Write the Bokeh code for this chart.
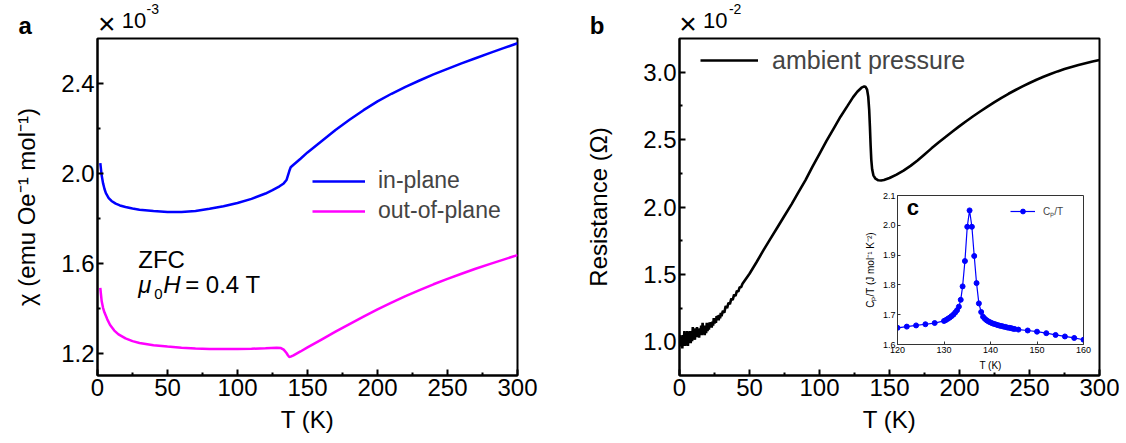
from bokeh.plotting import figure
from bokeh.models import Range1d, FixedTicker, PrintfTickFormatter, Label
from bokeh.layouts import row
from bokeh.embed import file_html
from bokeh.resources import INLINE

FONT = "Liberation Sans"

# ---------------- panel a : susceptibility (x1e-3 emu Oe^-1 mol^-1) ----------------
T_in = [2, 3, 4, 5, 6, 8, 10, 13, 16, 20, 25, 30, 40, 50, 60, 70, 80, 90, 100, 110,
        120, 125, 130, 133, 135, 136, 137, 138, 140, 145, 150, 160, 170, 180, 190, 200,
        210, 220, 230, 240, 250, 260, 270, 280, 290, 300]
chi_in = [2.045, 1.99, 1.955, 1.93, 1.912, 1.89, 1.877, 1.865, 1.857, 1.85, 1.843, 1.838,
          1.832, 1.828, 1.828, 1.832, 1.842, 1.853, 1.868, 1.886, 1.91, 1.925, 1.942, 1.955,
          1.97, 1.99, 2.01, 2.027, 2.038, 2.065, 2.093, 2.143, 2.193, 2.238, 2.281, 2.32,
          2.354, 2.385, 2.413, 2.44, 2.465, 2.489, 2.512, 2.535, 2.557, 2.579]
T_out = [2, 3, 4, 5, 7, 9, 12, 15, 20, 25, 30, 40, 50, 60, 70, 80, 90, 100, 110, 120,
         128, 131, 133, 135, 136, 137, 138, 140, 145, 150, 160, 170, 180, 190, 200, 210,
         220, 230, 240, 250, 260, 270, 280, 290, 300]
chi_out = [1.49, 1.43, 1.40, 1.38, 1.35, 1.325, 1.30, 1.283, 1.265, 1.253, 1.245, 1.235,
           1.229, 1.224, 1.22, 1.218, 1.218, 1.218, 1.219, 1.221, 1.223, 1.222, 1.215, 1.2,
           1.19, 1.182, 1.184, 1.19, 1.207, 1.225, 1.26, 1.295, 1.329, 1.362, 1.394, 1.424,
           1.453, 1.48, 1.506, 1.53, 1.553, 1.575, 1.596, 1.616, 1.636]
a_xticks = [0, 50, 100, 150, 200, 250, 300]
a_xminor = [25, 75, 125, 175, 225, 275]
a_yticks = [1.2, 1.6, 2.0, 2.4]
a_yminor = [1.4, 1.8, 2.2]

# ---------------- panel b : resistance (x1e-2 Ohm) ----------------
T_b = [0.5, 1.0, 1.5, 2.0, 2.5, 3.0, 3.5, 4.0, 4.5, 5.0, 5.5, 6.0, 6.5, 7.0, 7.5, 8.0, 8.5, 9.0, 9.5, 10.0,
       10.5, 11.0, 11.5, 12.0, 12.5, 13.0, 13.5, 14.0, 14.5, 15.0, 15.5, 16.0, 16.5, 17.0, 17.5, 18.0, 18.5, 19.0, 19.5, 20.0,
       20.5, 21.0, 21.5, 22.0, 22.5, 23.0, 23.5, 24.0, 24.5, 25.0, 25.5, 26.0, 26.5, 27.0, 27.5, 28.0, 28.5, 29.0, 29.5, 30.0,
       31, 32, 33, 34, 35, 36, 37, 38, 39, 40, 41, 42, 43, 44, 45,
       47, 50, 55, 60, 65, 70, 75, 80, 85, 90, 95, 100, 105, 110, 115, 120, 124, 127, 130, 132,
       133, 134, 134.8, 135.5, 136, 136.5, 137, 137.6, 138.5, 140, 142, 144, 146, 150, 155, 160,
       165, 170, 175, 180, 185, 190, 195, 200, 205, 210, 215, 220, 225, 230, 235, 240, 245, 250,
       255, 260, 265, 270, 275, 280, 285, 290, 295, 300]
R_b = [1.05, 0.965, 1.03, 0.95, 1.05, 0.995, 1.08, 0.97, 1.03, 0.995, 1.08, 0.97, 1.06, 1.015, 1.08, 0.99, 1.06, 1.005, 1.11, 1.02,
       1.08, 1.015, 1.10, 1.04, 1.11, 1.035, 1.09, 1.03, 1.10, 1.065, 1.12, 1.05, 1.14, 1.065, 1.12, 1.05, 1.11, 1.065, 1.14, 1.08,
       1.125, 1.09, 1.145, 1.11, 1.145, 1.105, 1.15, 1.12, 1.175, 1.135, 1.175, 1.14, 1.19, 1.16, 1.195, 1.16, 1.20, 1.175, 1.215, 1.19,
       1.23, 1.215, 1.265, 1.25, 1.29, 1.28, 1.32, 1.31, 1.35, 1.34, 1.378, 1.372, 1.405, 1.405, 1.43,
       1.46, 1.505, 1.59, 1.68, 1.765, 1.85, 1.935, 2.02, 2.11, 2.2, 2.3, 2.395, 2.49, 2.58, 2.67, 2.75, 2.815, 2.855, 2.885, 2.895,
       2.89, 2.87, 2.82, 2.72, 2.6, 2.46, 2.35, 2.28, 2.235, 2.21, 2.198, 2.197, 2.2, 2.215, 2.24, 2.27,
       2.305, 2.345, 2.39, 2.435, 2.478, 2.519, 2.56, 2.6, 2.638, 2.675, 2.71, 2.745, 2.778, 2.81, 2.84, 2.868, 2.895, 2.92,
       2.944, 2.966, 2.987, 3.006, 3.023, 3.039, 3.054, 3.067, 3.08, 3.091]
b_xticks = [0, 50, 100, 150, 200, 250, 300]
b_xminor = [25, 75, 125, 175, 225, 275]
b_yticks = [1.0, 1.5, 2.0, 2.5, 3.0]
b_yminor = [1.25, 1.75, 2.25, 2.75]

# ---------------- inset c : specific heat ----------------
T_c = [120, 122, 124, 126, 128, 130, 130.4, 130.8, 131.2, 131.6, 132.0, 132.4, 132.8, 133.2, 133.6,
       134.0, 134.5, 135.0, 135.5, 136.0, 136.5, 137.0, 137.5, 138.0, 138.4, 138.8, 139.2, 139.6,
       140.0, 140.4, 140.8, 141.2, 141.6, 142.0, 142.4, 142.8, 143.2, 143.6, 144.0, 144.4, 144.8,
       145.2, 146, 148, 150, 152, 154, 156, 158, 160]
Cp_c = [1.656, 1.66, 1.664, 1.668, 1.672, 1.679, 1.682, 1.686, 1.69, 1.695, 1.70, 1.707, 1.715, 1.727, 1.75,
        1.795, 1.88, 1.995, 2.05, 1.995, 1.897, 1.806, 1.738, 1.709, 1.693, 1.686, 1.681, 1.677,
        1.674, 1.671, 1.669, 1.667, 1.665, 1.663, 1.662, 1.66, 1.659, 1.657, 1.656, 1.655, 1.653,
        1.652, 1.65, 1.647, 1.643, 1.638, 1.632, 1.627, 1.622, 1.616]
c_xticks = [120, 130, 140, 150, 160]
c_xminor = [125, 135, 145, 155]
c_yticks = [1.6, 1.7, 1.8, 1.9, 2.0, 2.1]

TOP, BOTTOM = 38, 62   # shared top/bottom borders (plots in one row are aligned)


def style(p, xt, xm, yt, ym, xfmt, yfmt, tick_fs, lab_fs, maj_in, min_in, lw,
          xlabel, ylabel, tick_st, xlab_st, ylab_st, line_col="black"):
    p.xgrid.visible = False
    p.ygrid.visible = False
    p.outline_line_color = line_col
    p.outline_line_width = lw
    p.outline_line_alpha = 1
    p.xaxis.ticker = FixedTicker(ticks=xt, minor_ticks=xm)
    p.yaxis.ticker = FixedTicker(ticks=yt, minor_ticks=ym)
    p.xaxis.formatter = PrintfTickFormatter(format=xfmt)
    p.yaxis.formatter = PrintfTickFormatter(format=yfmt)
    p.xaxis.axis_label = xlabel
    p.yaxis.axis_label = ylabel
    for ax in (p.xaxis[0], p.yaxis[0]):
        ax.axis_line_color = line_col
        ax.axis_line_width = lw
        ax.major_tick_line_color = line_col
        ax.minor_tick_line_color = line_col
        ax.major_tick_line_width = lw
        ax.minor_tick_line_width = lw
        ax.major_tick_in = maj_in
        ax.major_tick_out = 0
        ax.minor_tick_in = min_in
        ax.minor_tick_out = 0
        ax.major_label_text_font = FONT
        ax.major_label_text_font_size = tick_fs
        ax.major_label_text_color = "black"
        ax.axis_label_text_font = FONT
        ax.axis_label_text_font_size = lab_fs
        ax.axis_label_text_font_style = "normal"
        ax.axis_label_text_color = "black"
        ax.major_label_standoff = tick_st
    p.xaxis[0].axis_label_standoff = xlab_st
    p.yaxis[0].axis_label_standoff = ylab_st


def lab(p, x, y, text, size, style_="normal", baseline="alphabetic", color="black"):
    p.add_layout(Label(x=x, y=y, text=text, text_font=FONT, text_font_size=size,
                       text_font_style=style_, text_baseline=baseline, text_align="left",
                       text_color=color))


# ---------------- figure a ----------------
pa = figure(frame_width=420, frame_height=337, x_range=Range1d(0, 300), y_range=Range1d(1.1, 2.6),
            min_border_left=97, min_border_right=43, min_border_top=TOP, min_border_bottom=BOTTOM,
            output_backend="svg", toolbar_location=None)
pa.background_fill_color = "white"
pa.border_fill_color = "white"
style(pa, a_xticks, a_xminor, a_yticks, a_yminor, "%d", "%.1f", "24px", "24px", 6, 3, 2,
      "T (K)", "χ (emu Oe⁻¹ mol⁻¹)", 3, 7, 18)
pa.line(T_in, chi_in, line_color="#0000ff", line_width=2.5, legend_label="in-plane")
pa.line(T_out, chi_out, line_color="#ff00ff", line_width=2.5, legend_label="out-of-plane")
lg = pa.legend[0]
lg.location = (215, 151)
lg.padding = 0
lg.margin = 0
lg.spacing = 3
lg.glyph_width = 53
lg.glyph_height = 26
lg.label_height = 26
lg.label_standoff = 13
lg.label_text_font = FONT
lg.label_text_font_size = "23px"
lg.border_line_color = None
lg.background_fill_alpha = 0

lab(pa, 29.1, 1.615, "ZFC", "24px")
lab(pa, 29.1, 1.505, "μ", "24px", "italic")
lab(pa, 40.5, 1.463, "0", "15px")
lab(pa, 46.9, 1.505, "H", "24px", "italic")
lab(pa, 62.6, 1.505, "= 0.4 T", "24px")

# ---------------- figure b ----------------
pb = figure(frame_width=420, frame_height=337, x_range=Range1d(0, 300), y_range=Range1d(0.75, 3.25),
            min_border_left=119, min_border_right=20, min_border_top=TOP, min_border_bottom=BOTTOM,
            output_backend="svg", toolbar_location=None)
pb.background_fill_color = "white"
pb.border_fill_color = "white"
style(pb, b_xticks, b_xminor, b_yticks, b_yminor, "%d", "%.1f", "24px", "24px", 6, 3, 2,
      "T (K)", "Resistance (Ω)", 3, 7, 28)
pb.line(T_b, R_b, line_color="black", line_width=2.6, legend_label="ambient pressure")
lgb = pb.legend[0]
lgb.location = (21, 300)
lgb.padding = 0
lgb.margin = 0
lgb.glyph_width = 58
lgb.glyph_height = 30
lgb.label_height = 30
lgb.label_standoff = 14
lgb.label_text_font = FONT
lgb.label_text_font_size = "25px"
lgb.border_line_color = None
lgb.background_fill_alpha = 0

# ---------------- inset c (absolutely placed over panel b) ----------------
pc = figure(frame_width=186, frame_height=149, x_range=Range1d(120, 160), y_range=Range1d(1.6, 2.1),
            min_border_left=40, min_border_right=14, min_border_top=TOP, min_border_bottom=BOTTOM,
            output_backend="svg", toolbar_location=None)
pc.background_fill_color = "white"
pc.border_fill_color = None
style(pc, c_xticks, c_xminor, c_yticks, [], "%d", "%.1f", "9px", "10px", 3, 0, 1,
      "T (K)", "Cₚ/T (J mol⁻¹ K⁻²)", 2, 4, 4, line_col="#333333")
pc.line(T_c, Cp_c, line_color="#0000ff", line_width=1.2, legend_label="Cₚ/T")
pc.scatter(T_c, Cp_c, size=5, marker="circle", fill_color="#0000ff", line_color="#0000ff",
           legend_label="Cₚ/T")
lgc = pc.legend[0]
lgc.location = (113, 126)
lgc.padding = 0
lgc.margin = 0
lgc.glyph_width = 25
lgc.glyph_height = 12
lgc.label_height = 12
lgc.label_standoff = 8
lgc.label_text_font = FONT
lgc.label_text_font_size = "10px"
lgc.border_line_color = None
lgc.background_fill_alpha = 0
lab(pc, 122.0, 2.06, "c", "22px", "bold")
pc.styles = {"position": "absolute", "left": "857px", "top": "157px"}

# ---------------- transparent header strip for panel letters and scale factors ----------------
HH = 80
hd = figure(frame_width=1126, frame_height=HH, x_range=Range1d(0, 1126), y_range=Range1d(HH, 0),
            min_border_left=0, min_border_right=0, min_border_top=TOP, min_border_bottom=BOTTOM,
            output_backend="svg", toolbar_location=None)
hd.axis.visible = False
hd.xgrid.visible = False
hd.ygrid.visible = False
hd.outline_line_color = None
hd.background_fill_color = None
hd.border_fill_color = None
lab(hd, 18, 32, "a", "24px", "bold")
lab(hd, 98, 30, "×", "30px")
lab(hd, 122, 27, "10", "22px")
lab(hd, 147, 10, "-3", "14px", baseline="top")
lab(hd, 593, 32, "b", "24px", "bold")
lab(hd, 683, 30, "×", "30px")
lab(hd, 707, 27, "10", "22px")
lab(hd, 733, 10, "-2", "14px", baseline="top")
hd.styles = {"position": "absolute", "left": "0px", "top": "-45px"}

layout = row(pa, pb, pc, hd)
open("out.html", "w").write(file_html(layout, INLINE))
